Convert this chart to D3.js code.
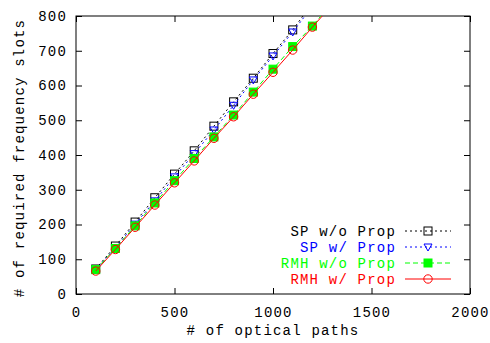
<!DOCTYPE html>
<html>
<head>
<meta charset="utf-8">
<script src="https://cdn.jsdelivr.net/npm/d3@7"></script>
<style>
  body { margin: 0; background: #fff; }
  text { font-family: "Liberation Mono", "DejaVu Sans Mono", monospace; font-size: 14px; letter-spacing: 1.2px; }
</style>
</head>
<body>
<svg id="chart" width="490" height="343"></svg>
<script>
const paths = [100, 200, 300, 400, 500, 600, 700, 800, 900, 1000, 1100, 1200, 1300];
const spNoProp = [72, 138, 207, 277, 345, 412, 483, 553, 621, 692, 760, 837, 910];
const spProp = [70, 133, 201, 268, 337, 404, 472, 543, 616, 685, 754, 828, 900];
const rmhNoProp = [70, 131, 196, 262, 326, 390, 452, 515, 581, 647, 712, 771, 838];
const rmhProp = [66, 128, 192, 256, 320, 383, 448, 510, 575, 638, 702, 768, 832];
const xTicks = [0, 500, 1000, 1500, 2000];
const yTicks = [0, 100, 200, 300, 400, 500, 600, 700, 800];

const series = [
  { name: 'SP w/o Prop', values: spNoProp, color: '#000000', dash: '2,3', marker: 'square' },
  { name: 'SP w/ Prop', values: spProp, color: '#0000ff', dash: '2,3', marker: 'triangle' },
  { name: 'RMH w/o Prop', values: rmhNoProp, color: '#00ff00', dash: '5,3', marker: 'filledsquare' },
  { name: 'RMH w/ Prop', values: rmhProp, color: '#ff0000', dash: null, marker: 'circle' }
];

const margin = { left: 76, right: 20, top: 16, bottom: 49 };
const width = 490, height = 343;
const svg = d3.select('#chart');

const x = d3.scaleLinear().domain([0, 2000]).range([margin.left, width - margin.right]);
const y = d3.scaleLinear().domain([0, 800]).range([height - margin.bottom, margin.top]);

svg.append('defs').append('clipPath').attr('id', 'clip')
  .append('rect')
  .attr('x', x(0)).attr('y', y(800))
  .attr('width', x(2000) - x(0)).attr('height', y(0) - y(800));

// axes with mirrored inward ticks
const tick = 6;
const fmt = d3.format('d');
const bottomAxis = d3.axisBottom(x).tickValues(xTicks).tickSize(-tick).tickPadding(13).tickFormat(fmt);
const topAxis = d3.axisTop(x).tickValues(xTicks).tickSize(-tick).tickFormat('');
const leftAxis = d3.axisLeft(y).tickValues(yTicks).tickSize(-tick).tickPadding(9).tickFormat(fmt);
const rightAxis = d3.axisRight(y).tickValues(yTicks).tickSize(-tick).tickFormat('');

function styleAxis(g) {
  g.select('.domain').remove();
  g.selectAll('line').attr('stroke', '#000');
  g.selectAll('text').attr('fill', '#000').style('font-size', '14px')
    .style('font-family', '"Liberation Mono", monospace');
}

svg.append('g').attr('transform', `translate(0,${y(0)})`).call(bottomAxis).call(styleAxis);
svg.append('g').attr('transform', `translate(0,${y(800)})`).call(topAxis).call(styleAxis);
svg.append('g').attr('transform', `translate(${x(0)},0)`).call(leftAxis).call(styleAxis);
svg.append('g').attr('transform', `translate(${x(2000)},0)`).call(rightAxis).call(styleAxis);

svg.append('rect')
  .attr('x', x(0)).attr('y', y(800))
  .attr('width', x(2000) - x(0)).attr('height', y(0) - y(800))
  .attr('fill', 'none').attr('stroke', '#000').attr('stroke-width', 1);

svg.append('text')
  .attr('x', (x(0) + x(2000)) / 2).attr('y', 335)
  .attr('text-anchor', 'middle')
  .text('# of optical paths');

svg.append('text')
  .attr('transform', `translate(24,${(y(0) + y(800)) / 2 + 3}) rotate(-90)`)
  .attr('text-anchor', 'middle')
  .text('# of required frequency slots');

function drawMarker(g, type, color, cx, cy) {
  if (type === 'square' || type === 'filledsquare') {
    g.append('rect')
      .attr('x', cx - 4).attr('y', cy - 4).attr('width', 8).attr('height', 8)
      .attr('fill', type === 'filledsquare' ? color : 'none')
      .attr('stroke', color).attr('stroke-width', 1);
  } else if (type === 'triangle') {
    g.append('path')
      .attr('d', `M${cx - 4},${cy - 3}L${cx + 4},${cy - 3}L${cx},${cy + 4}Z`)
      .attr('fill', 'none').attr('stroke', color).attr('stroke-width', 1);
  } else {
    g.append('circle').attr('cx', cx).attr('cy', cy).attr('r', 4.2)
      .attr('fill', 'none').attr('stroke', color).attr('stroke-width', 1);
  }
}

const plot = svg.append('g').attr('clip-path', 'url(#clip)');
const line = d3.line().x((d, i) => x(paths[i])).y(d => y(d));

series.forEach(s => {
  plot.append('path')
    .datum(s.values)
    .attr('d', line)
    .attr('fill', 'none')
    .attr('stroke', s.color)
    .attr('stroke-width', 1)
    .attr('stroke-dasharray', s.dash);
  const mg = plot.append('g');
  s.values.forEach((v, i) => drawMarker(mg, s.marker, s.color, x(paths[i]), y(v)));
});

// legend
const legend = svg.append('g');
series.forEach((s, i) => {
  const ly = 231 + i * 16;
  legend.append('text')
    .attr('x', 396).attr('y', ly + 5)
    .attr('text-anchor', 'end')
    .attr('fill', s.color)
    .text(s.name);
  legend.append('line')
    .attr('x1', 405).attr('x2', 451).attr('y1', ly).attr('y2', ly)
    .attr('stroke', s.color).attr('stroke-width', 1)
    .attr('stroke-dasharray', s.dash);
  drawMarker(legend, s.marker, s.color, 428, ly);
});
</script>
</body>
</html>
